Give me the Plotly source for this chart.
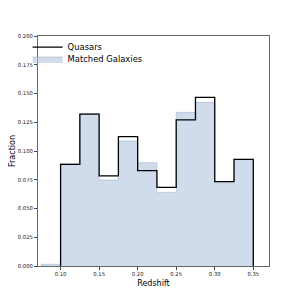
import plotly.graph_objects as go

# Data
bin_edges = [0.075, 0.100, 0.125, 0.150, 0.175, 0.200, 0.225, 0.250, 0.275, 0.300, 0.325, 0.350]
quasar_frac = [0.0, 0.0884, 0.1320, 0.0783, 0.1125, 0.0829, 0.0684, 0.1270, 0.1467, 0.0733, 0.0928]
galaxy_frac = [0.0015, 0.0890, 0.1325, 0.0748, 0.1087, 0.0898, 0.0640, 0.1336, 0.1423, 0.0725, 0.0928]
x_ticks = [0.10, 0.15, 0.20, 0.25, 0.30, 0.35]
y_ticks = [0.000, 0.025, 0.050, 0.075, 0.100, 0.125, 0.150, 0.175, 0.200]

fig = go.Figure()

# Galaxies: stepfilled
gx = list(bin_edges[:-1]) + [bin_edges[-1]]
gy = list(galaxy_frac) + [galaxy_frac[-1]]
fig.add_trace(go.Scatter(
    x=[bin_edges[0]] + gx + [bin_edges[-1]],
    y=[0] + gy + [0],
    mode="lines", line=dict(shape="hv", width=0.6, color="rgba(150,170,200,0.8)"),
    fill="tozeroy", fillcolor="rgba(176,196,222,0.6)",
    name="Matched Galaxies", legend="legend2",
))

# Quasars: step line, starting at first nonzero bin
start = next(i for i, v in enumerate(quasar_frac) if v > 0)
qx = [bin_edges[start]] + list(bin_edges[start:-1]) + [bin_edges[-1], bin_edges[-1]]
qy = [0] + list(quasar_frac[start:]) + [quasar_frac[-1], 0]
fig.add_trace(go.Scatter(
    x=qx, y=qy, mode="lines",
    line=dict(shape="hv", width=1.3, color="black"),
    name="Quasars", legend="legend",
))

axis_common = dict(
    automargin=False,
    showgrid=False, zeroline=False, showline=True, mirror=True,
    linecolor="#666666", linewidth=1, ticks="outside", ticklen=3,
    tickcolor="#444444", tickwidth=0.8,
    tickfont=dict(family="DejaVu Sans", size=5.3, color="#222222"),
)
fig.update_xaxes(range=[0.0707, 0.3704], tickvals=x_ticks, tickformat=".2f",
                 title=dict(text="Redshift", font=dict(family="DejaVu Sans", size=8, color="black"), standoff=4),
                 **axis_common)
fig.update_yaxes(range=[0, 0.2], tickvals=y_ticks, tickformat=".3f",
                 title=dict(text="Fraction", font=dict(family="DejaVu Sans", size=8, color="black"), standoff=4),
                 **axis_common)

leg_font = dict(family="DejaVu Sans", size=8.4, color="black")
fig.update_layout(
    template="none",
    width=291, height=291,
    margin=dict(l=30, r=30, t=28, b=33),
    plot_bgcolor="white", paper_bgcolor="white",
    showlegend=True,
    legend=dict(x=-0.045, y=0.952, xanchor="left", yanchor="middle",
                bgcolor="rgba(255,255,255,0)", font=leg_font, itemwidth=30),
    legend2=dict(x=-0.045, y=0.900, xanchor="left", yanchor="middle",
                 bgcolor="rgba(255,255,255,0)", font=leg_font, itemwidth=30),
)

fig.write_html("out.html")
